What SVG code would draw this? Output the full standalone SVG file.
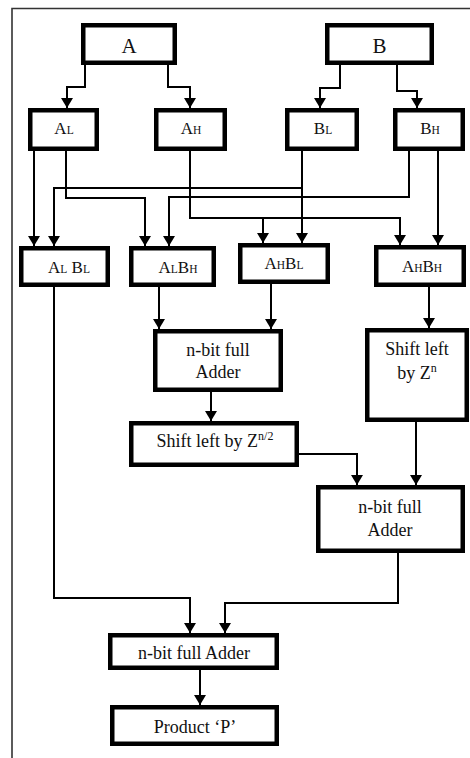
<svg xmlns="http://www.w3.org/2000/svg" width="470" height="758" viewBox="0 0 470 758">
<defs>
<style>
.box{fill:#fff;stroke:#000;stroke-width:4.5}
.t{font-family:"Liberation Serif","DejaVu Serif",serif;font-size:18px;fill:#111;text-anchor:middle}
.big{font-size:21px}
.m{font-size:17px}
.s{font-size:11.5px}
.sup{font-size:12px}
.c{fill:none;stroke:#000;stroke-width:2}
.frame{fill:none;stroke:#333;stroke-width:1.6}
</style>
<marker id="ah" markerUnits="userSpaceOnUse" markerWidth="11" markerHeight="12" refX="10" refY="6" orient="auto">
<path d="M0,0 L10,6 L0,12 z" fill="#000"/>
</marker>
</defs>
<rect width="470" height="758" fill="#fff"/>
<path class="frame" d="M12,758 V8.5 H470"/>

<g id="connectors">
<path class="c" marker-end="url(#ah)" d="M85,65 V87 H67 V108"/>
<path class="c" marker-end="url(#ah)" d="M168,65 V87 H190 V108"/>
<path class="c" marker-end="url(#ah)" d="M340,65 V88 H320 V108"/>
<path class="c" marker-end="url(#ah)" d="M397,65 V91 H417 V108"/>
<path class="c" marker-end="url(#ah)" d="M34,151 V246"/>
<path class="c" marker-end="url(#ah)" d="M66,151 V198 H145 V246"/>
<path class="c" marker-end="url(#ah)" d="M190,151 V218 H400 V245"/>
<path class="c" marker-end="url(#ah)" d="M263,218 V243"/>
<path class="c" marker-end="url(#ah)" d="M302,151 V243"/>
<path class="c" marker-end="url(#ah)" d="M302,188 H54 V246"/>
<path class="c" marker-end="url(#ah)" d="M409,151 V197 H169 V246"/>
<path class="c" marker-end="url(#ah)" d="M438,151 V245"/>
<path class="c" marker-end="url(#ah)" d="M54,287 V598 H190 V633"/>
<path class="c" marker-end="url(#ah)" d="M159,287 V329"/>
<path class="c" marker-end="url(#ah)" d="M271,284 V329"/>
<path class="c" marker-end="url(#ah)" d="M429,287 V328"/>
<path class="c" marker-end="url(#ah)" d="M211,392 V421"/>
<path class="c" marker-end="url(#ah)" d="M299,454 H357 V485"/>
<path class="c" marker-end="url(#ah)" d="M416,422 V485"/>
<path class="c" marker-end="url(#ah)" d="M398,553 V603 H225 V633"/>
<path class="c" marker-end="url(#ah)" d="M200,670 V705"/>
</g>

<g id="A"><rect class="box" x="83.25" y="25.25" width="91.5" height="37.5"/><text class="t big" x="129" y="52.5">A</text></g>
<g id="B"><rect class="box" x="327.25" y="25.25" width="104.5" height="37.5"/><text class="t big" x="379.5" y="52.5">B</text></g>

<g id="AL"><rect class="box" x="30.25" y="110.25" width="66.5" height="38.5"/><text class="t m" x="64" y="134">A<tspan class="s">L</tspan></text></g>
<g id="AH"><rect class="box" x="156.25" y="110.25" width="68.5" height="38.5"/><text class="t m" x="191" y="134">A<tspan class="s">H</tspan></text></g>
<g id="BL"><rect class="box" x="287.25" y="110.25" width="69.5" height="38.5"/><text class="t m" x="323" y="134">B<tspan class="s">L</tspan></text></g>
<g id="BH"><rect class="box" x="395.25" y="110.25" width="67.5" height="38.5"/><text class="t m" x="430" y="134">B<tspan class="s">H</tspan></text></g>

<g id="ALBL"><rect class="box" x="21.25" y="248.25" width="86.5" height="36.5"/><text class="t m" x="69" y="273">A<tspan class="s">L</tspan> B<tspan class="s">L</tspan></text></g>
<g id="ALBH"><rect class="box" x="131.25" y="248.25" width="82.5" height="36.5"/><text class="t m" x="178" y="273">A<tspan class="s">L</tspan>B<tspan class="s">H</tspan></text></g>
<g id="AHBL"><rect class="box" x="240.25" y="245.25" width="87.5" height="36.5"/><text class="t m" x="284" y="269">A<tspan class="s">H</tspan>B<tspan class="s">L</tspan></text></g>
<g id="AHBH"><rect class="box" x="376.25" y="247.25" width="87.5" height="37.5"/><text class="t m" x="422" y="272">A<tspan class="s">H</tspan>B<tspan class="s">H</tspan></text></g>

<g id="adder1"><rect class="box" x="155.25" y="331.25" width="125.5" height="58.5"/><text class="t" x="218" y="356">n-bit full</text><text class="t" x="218" y="378">Adder</text></g>
<g id="shiftn"><rect class="box" x="367.25" y="330.25" width="99.5" height="89.5"/><text class="t" x="417" y="355">Shift left</text><text class="t" x="417" y="379">by Z<tspan class="sup" dy="-7">n</tspan></text></g>
<g id="shiftn2"><rect class="box" x="131.25" y="423.25" width="165.5" height="41.5"/><text class="t" x="215" y="447">Shift left by Z<tspan class="sup" dy="-7">n/2</tspan></text></g>
<g id="adder2"><rect class="box" x="318.25" y="487.25" width="144.5" height="63.5"/><text class="t" x="390" y="513">n-bit full</text><text class="t" x="390" y="536">Adder</text></g>
<g id="adder3"><rect class="box" x="110.25" y="635.25" width="166.5" height="32.5"/><text class="t" x="194" y="659">n-bit full Adder</text></g>
<g id="product"><rect class="box" x="112.25" y="707.25" width="164.5" height="36.5"/><text class="t" x="195" y="733">Product ‘P’</text></g>
</svg>
